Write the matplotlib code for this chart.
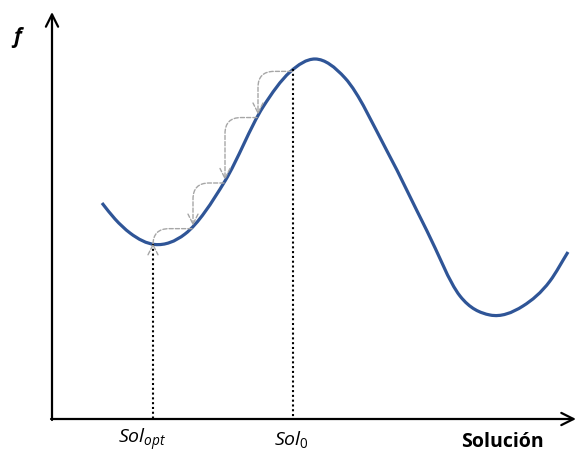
import numpy as np
import matplotlib
matplotlib.use('Agg')
from matplotlib import pyplot as plt
from matplotlib.path import Path
from matplotlib.patches import PathPatch

plt.rcParams['font.family'] = ['Open Sans', 'DejaVu Sans']
plt.rcParams['mathtext.fontset'] = 'custom'
plt.rcParams['mathtext.rm'] = 'Open Sans'
plt.rcParams['mathtext.it'] = 'Open Sans:italic'

# curve f(solucion) (pixel-like units, y grows downwards)
sol_x = [102, 115, 130, 155, 185, 225, 263, 290, 315, 345, 387, 427, 460,
         490, 523, 550, 568]
f_y = [204, 220, 234, 245.5, 235, 182, 108, 73, 60, 79, 152, 232, 297,
       316, 307, 282, 253]

# steps of the local search, from Sol0 down to Sol_opt
steps_x = [293, 258, 225, 193, 153]
sol0_x = 293
solopt_x = 153

axis_y = 420
axis_x = 52


def smooth_path(xs, ys):
    # hermite curve through the read points, drawn as cubic bezier segments
    x = np.asarray(xs, float)
    y = np.asarray(ys, float)
    m = np.gradient(y, x)
    verts = [(x[0], y[0])]
    codes = [Path.MOVETO]
    for i in range(len(x) - 1):
        h = (x[i + 1] - x[i]) / 3
        verts += [(x[i] + h, y[i] + m[i] * h),
                  (x[i + 1] - h, y[i + 1] - m[i + 1] * h),
                  (x[i + 1], y[i + 1])]
        codes += [Path.CURVE4] * 3
    return Path(verts, codes)


curve = smooth_path(sol_x, f_y)
# dense points along the drawn curve, to put the arrows on it
cv = curve.to_polygons(closed_only=False)[0]


def curve_y(xv):
    return np.interp(xv, cv[:, 0], cv[:, 1])


fig = plt.figure(figsize=(5.77, 4.60), dpi=100)
ax = fig.add_axes([0, 0, 1, 1])
ax.set_xlim(0, 577)
ax.set_ylim(460, 0)
ax.axis('off')

# axes with open arrow heads
ax.annotate('', xy=(576, axis_y), xytext=(axis_x - 1, axis_y),
            arrowprops=dict(arrowstyle='->', lw=1.6, color='black',
                            mutation_scale=22, shrinkA=0, shrinkB=0))
ax.annotate('', xy=(axis_x, 13), xytext=(axis_x, axis_y + 1),
            arrowprops=dict(arrowstyle='->', lw=1.6, color='black',
                            mutation_scale=22, shrinkA=0, shrinkB=0))

ax.add_patch(PathPatch(curve, facecolor='none',
                       edgecolor='#2F5597', lw=2.3, capstyle='butt'))

# dotted drop lines
for xv in [solopt_x, sol0_x]:
    ax.plot([xv, xv], [curve_y(xv), axis_y], color='black', lw=1.5,
            ls=(0, (1, 1.3)))

# gray dashed arrows
for x0, x1 in zip(steps_x[:-1], steps_x[1:]):
    ax.annotate('', xy=(x1, curve_y(x1) - 1), xytext=(x0 - 1, curve_y(x0) + 2),
                arrowprops=dict(arrowstyle='->', color='#A6A6A6', lw=1.0,
                                ls=(0, (3, 1.5)), mutation_scale=18,
                                shrinkA=0, shrinkB=0,
                                connectionstyle='angle,angleA=180,angleB=90,rad=16'))

ax.text(17, 38, 'f', fontsize=15, fontweight='bold', fontstyle='italic',
        ha='center', va='center')
ax.text(142, 440, r'$Sol_{opt}$', fontsize=14, ha='center', va='center')
ax.text(291, 440, r'$Sol_{0}$', fontsize=14, ha='center', va='center')
ax.text(502, 442, 'Solución', fontsize=14, fontweight='bold',
        ha='center', va='center')

fig.savefig('out.png', dpi=100)
